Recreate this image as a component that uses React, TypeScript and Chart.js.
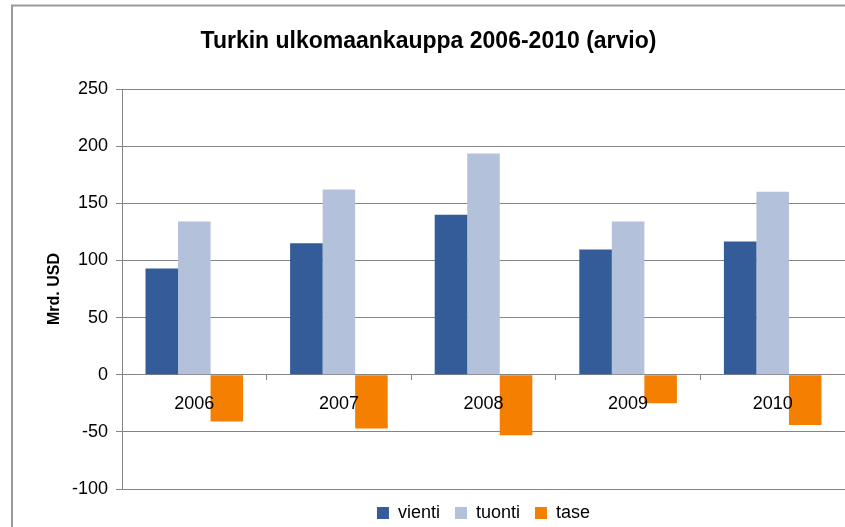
import React, { useEffect, useRef } from "react";
import { Chart, registerables } from "chart.js";

Chart.register(...registerables);

const categories = ["2006", "2007", "2008", "2009", "2010"];
const vienti = [93, 115, 140, 109.5, 116.5];
const tuonti = [134, 162, 193.5, 134, 160];
const tase = [-41, -47, -53, -25, -44];
const seriesNames = ["vienti", "tuonti", "tase"];
const titleText = "Turkin ulkomaankauppa 2006-2010 (arvio)";
const yTitle = "Mrd. USD";
const yMin = -100;
const yMax = 250;
const yStep = 50;

const FONT = "'Liberation Sans', Arial, Helvetica, sans-serif";
const GRID = "#858585";

const framePlugin = {
  id: "frame",
  beforeDraw(chart: any) {
    const ctx = chart.ctx;
    ctx.save();
    ctx.fillStyle = "#ffffff";
    ctx.fillRect(0, 0, chart.width, chart.height);
    ctx.strokeStyle = "#9a9a9a";
    ctx.lineWidth = 2;
    ctx.strokeRect(12, 5.5, chart.width + 50, chart.height + 50);
    ctx.restore();
  },
};

export default function App() {
  const ref = useRef<HTMLCanvasElement | null>(null);
  useEffect(() => {
    if (!ref.current) return;
    Chart.defaults.font.family = FONT;
    const chart = new Chart(ref.current, {
      type: "bar",
      data: {
        labels: categories,
        datasets: [
          { label: seriesNames[0], data: vienti, backgroundColor: "#345C99" },
          { label: seriesNames[1], data: tuonti, backgroundColor: "#B3C2DA" },
          { label: seriesNames[2], data: tase, backgroundColor: "#F57F00" },
        ],
      },
      options: {
        responsive: false,
        animation: false,
        layout: { padding: { left: 12, top: 0, right: 0, bottom: 0 } },
        datasets: { bar: { categoryPercentage: 0.675, barPercentage: 1 } },
        plugins: {
          title: {
            display: true,
            text: titleText,
            color: "#000",
            font: { size: 23, weight: "bold", family: FONT },
            padding: { top: 28, bottom: 33.4 },
          },
          legend: {
            position: "bottom",
            fullSize: false,
            labels: {
              color: "#000",
              font: { size: 18, family: FONT },
              boxWidth: 12,
              boxHeight: 12,
              padding: 15,
            },
          },
          tooltip: { enabled: false },
        },
        scales: {
          x: {
            type: "category",
            position: { y: 0 } as any,
            grid: {
              drawOnChartArea: false,
              drawTicks: true,
              tickLength: 5,
              color: GRID,
              offset: true,
            },
            border: { color: GRID, width: 1 },
            ticks: { color: "#000", font: { size: 18, family: FONT }, padding: 14, maxRotation: 0, z: 1 },
          },
          y: {
            min: yMin,
            max: yMax,
            afterFit(scale: any) {
              scale.width = 110;
            },
            ticks: { stepSize: yStep, color: "#000", font: { size: 18, family: FONT }, padding: 8 },
            grid: { color: GRID, tickLength: 6, drawTicks: true },
            border: { color: GRID, width: 1 },
            title: {
              display: true,
              text: yTitle,
              color: "#000",
              font: { size: 16, weight: "bold", family: FONT },
              padding: { top: 33, bottom: 0 },
            },
          },
        },
      },
      plugins: [framePlugin],
    } as any);
    return () => chart.destroy();
  }, []);
  return (
    <div style={{ position: "fixed", left: 0, top: 0, width: 845, height: 532 }}>
      <canvas ref={ref} width={845} height={532} style={{ width: 845, height: 532, display: "block" }} />
    </div>
  );
}
